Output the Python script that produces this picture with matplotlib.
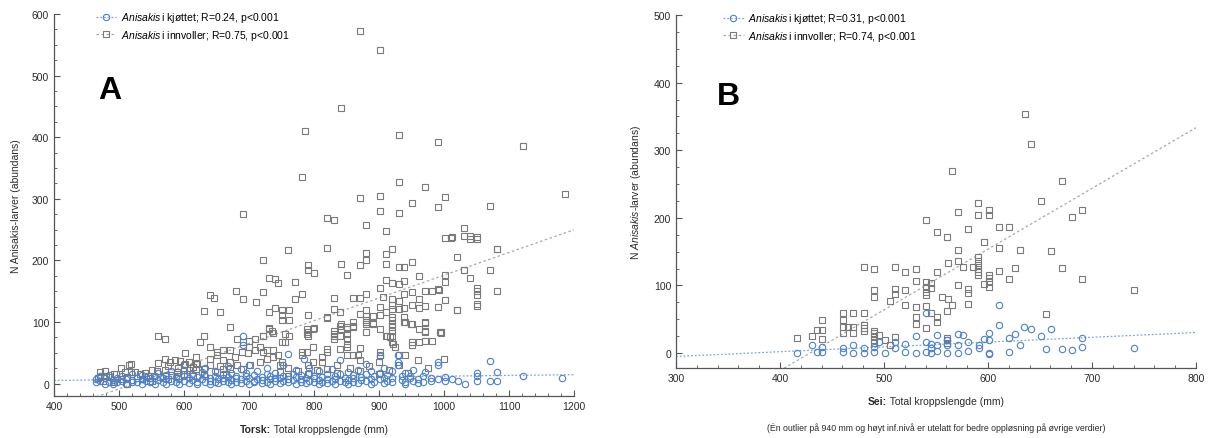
import numpy as np
import matplotlib
matplotlib.use("Agg")
import matplotlib.pyplot as plt
from matplotlib.lines import Line2D
from matplotlib.ticker import MultipleLocator

plt.rcParams['font.family'] = ['Liberation Sans', 'DejaVu Sans']
plt.rcParams['mathtext.fontset'] = 'custom'
plt.rcParams['mathtext.rm'] = 'Liberation Sans'
plt.rcParams['mathtext.it'] = 'Liberation Sans:italic'
plt.rcParams['mathtext.bf'] = 'Liberation Sans:bold'

# ---- Torsk (A): Anisakis i kjøttet, (lengde mm, antall)
torsk_kjott = [
    (465, 2), (465, 8), (470, 5), (470, 12), (478, 0), (478, 9), (485, 3), (485, 14), (490, 6), (490, -1),
    (497, 10), (497, 2), (505, 4), (505, 12), (511, 0), (511, 8), (520, 6), (520, 15), (520, 2), (528, 10),
    (528, 3), (535, 0), (535, 7), (535, 14), (541, 5), (541, 11), (548, 2), (548, 9), (555, 13), (555, 0),
    (560, 6), (560, 18), (567, 3), (567, 10), (572, 0), (572, 14), (572, 7), (580, 5), (580, 20), (587, 2),
    (587, 11), (593, 8), (593, 0), (600, 4), (600, 13), (600, 22), (607, 1), (607, 9), (613, 6), (613, 16),
    (620, 0), (620, 11), (620, 3), (627, 8), (627, 19), (633, 2), (633, 13), (633, 26), (640, 5), (640, 0),
    (640, 10), (647, 12), (647, 3), (647, 21), (653, 7), (653, 1), (660, 15), (660, 4), (660, 9), (667, 2),
    (667, 11), (667, 28), (673, 6), (673, 0), (673, 17), (680, 9), (680, 3), (680, 13), (688, 24), (688, 1),
    (688, 7), (690, 78), (690, 63), (695, 5), (695, 12), (695, 18), (700, 0), (700, 9), (700, 30), (707, 4),
    (707, 14), (707, 2), (713, 8), (713, 20), (720, 1), (720, 11), (720, 6), (727, 15), (727, 3), (727, 25),
    (733, 7), (733, 0), (733, 12), (740, 4), (740, 18), (740, 9), (747, 1), (747, 10), (753, 13), (753, 5),
    (753, 30), (760, 48), (760, 2), (760, 8), (767, 16), (767, 6), (773, 0), (773, 11), (773, 22), (780, 7),
    (780, 3), (780, 14), (784, 40), (787, 10), (787, 1), (793, 5), (793, 17), (793, 26), (800, 2), (800, 9),
    (800, 13), (807, 0), (807, 6), (807, 20), (813, 11), (813, 3), (820, 8), (820, 15), (820, 1), (827, 4),
    (827, 24), (833, 12), (833, 0), (833, 7), (840, 38), (840, 5), (840, 16), (847, 2), (847, 10), (853, 19),
    (853, 6), (853, 0), (860, 9), (860, 3), (860, 14), (867, 22), (867, 1), (873, 6), (873, 11), (880, 32),
    (880, 4), (880, 15), (887, 0), (887, 8), (887, 20), (893, 12), (893, 3), (901, 45), (901, 7), (901, 18),
    (907, 1), (907, 10), (907, 26), (913, 5), (913, 14), (920, 2), (920, 9), (920, 20), (929, 46), (929, 35),
    (929, 30), (935, 6), (935, 12), (940, 0), (940, 17), (940, 3), (947, 9), (947, 13), (953, 4), (953, 22),
    (960, 7), (960, 1), (967, 12), (967, 3), (971, 19), (980, 5), (980, 10), (991, 35), (991, 30), (991, 8),
    (1001, 11), (1001, 4), (1012, 8), (1022, 5), (1032, 0), (1050, 18), (1050, 13), (1050, 5), (1071, 37),
    (1071, 5), (1081, 19), (1081, 5), (1121, 13), (1181, 10),
]

# ---- Torsk (A): Anisakis i innvoller
torsk_innvoller = [
    (871, 572), (901, 542), (841, 447), (786, 410), (931, 404), (991, 393), (1121, 386), (781, 336), (931, 328),
    (970, 319), (1186, 308), (871, 302), (901, 305), (950, 294), (1001, 303), (991, 286), (1070, 289), (901, 281),
    (931, 277), (691, 275), (820, 269), (831, 266), (880, 257), (910, 247), (1031, 252), (1001, 237), (1010, 237),
    (1040, 240), (1040, 235), (1050, 235), (1081, 218), (760, 217), (820, 220), (880, 212), (880, 200), (910, 210),
    (910, 194), (920, 218), (721, 201), (1020, 206), (841, 195), (871, 192), (931, 189), (939, 190), (950, 198),
    (790, 193), (790, 184), (800, 180), (850, 177), (1031, 184), (1071, 184), (1040, 171), (961, 174), (1001, 176),
    (1001, 165), (730, 172), (740, 170), (745, 163), (771, 165), (910, 169), (920, 164), (931, 162), (939, 167),
    (901, 156), (721, 148), (781, 145), (771, 138), (831, 139), (860, 139), (871, 139), (880, 145), (906, 140),
    (920, 138), (931, 135), (939, 146), (950, 149), (970, 151), (981, 151), (991, 153), (1050, 156), (1050, 144),
    (1081, 151), (1001, 136), (711, 132), (740, 123), (750, 119), (750, 111), (750, 103), (761, 119), (761, 103),
    (730, 117), (790, 111), (831, 122), (840, 116), (880, 120), (871, 113), (880, 110), (890, 110), (902, 124),
    (902, 111), (910, 117), (920, 127), (920, 122), (931, 122), (939, 123), (950, 128), (961, 137), (961, 123),
    (970, 126), (991, 124), (1020, 119), (1050, 126), (1050, 130), (820, 106), (841, 97), (850, 92), (860, 100),
    (841, 88), (831, 86), (831, 81), (840, 78), (850, 81), (860, 92), (880, 103), (880, 97), (880, 84), (890, 99),
    (902, 89), (910, 78), (920, 108), (920, 103), (920, 97), (920, 92), (920, 86), (920, 78), (939, 108),
    (939, 100), (949, 97), (961, 88), (970, 99), (970, 84), (995, 84), (800, 90), (790, 84), (790, 78), (820, 108),
    (730, 90), (736, 85), (721, 78), (755, 81), (761, 78), (640, 144), (646, 139), (680, 150), (691, 138),
    (631, 118), (655, 117), (670, 92), (560, 78), (571, 72), (631, 78), (625, 67), (640, 59), (681, 72), (691, 67),
    (700, 70), (709, 73), (722, 78), (731, 89), (737, 83), (750, 67), (700, 59), (709, 54), (717, 59), (722, 51),
    (727, 54), (650, 51), (660, 54), (671, 54), (678, 43), (689, 51), (699, 49), (601, 49), (619, 43), (640, 40),
    (650, 46), (560, 34), (578, 35), (586, 38), (594, 36), (601, 32), (607, 35), (619, 32), (619, 24), (519, 32),
    (519, 19), (660, 38), (671, 35), (660, 24), (671, 24), (681, 30), (691, 24), (701, 30), (717, 35), (727, 40),
    (737, 43), (745, 46), (750, 35), (737, 54), (630, 24), (630, 16), (650, 19), (558, 20), (571, 22), (589, 19),
    (604, 16), (614, 13), (471, 19), (478, 20), (470, 11), (486, 11), (509, 19), (512, 11), (525, 19), (532, 16),
    (540, 18), (545, 13), (496, 16), (512, 0), (535, 8), (548, 9), (755, 67), (789, 89), (789, 81), (799, 89),
    (830, 78), (830, 73), (840, 94), (850, 89), (850, 73), (850, 65), (850, 59), (860, 94), (820, 57), (820, 51),
    (799, 59), (789, 51), (781, 51), (781, 46), (799, 35), (812, 43), (812, 35), (840, 57), (850, 47), (860, 47),
    (868, 46), (871, 58), (871, 38), (880, 100), (891, 97), (902, 51), (902, 46), (912, 78), (917, 76), (922, 65),
    (925, 59), (920, 67), (930, 46), (940, 46), (940, 100), (950, 97), (971, 100), (971, 85), (950, 67), (950, 62),
    (961, 67), (971, 69), (981, 69), (996, 83), (820, 24), (748, 30), (748, 19), (760, 25), (760, 12), (775, 20),
    (790, 30), (790, 15), (805, 22), (835, 18), (835, 30), (855, 25), (870, 20), (885, 28), (900, 15), (900, 35),
    (915, 22), (930, 30), (945, 18), (960, 38), (975, 25), (1000, 40), (468, 10), (475, 5), (480, 12), (492, 15),
    (492, 3), (503, 25), (503, 8), (516, 30), (550, 22), (550, 5), (563, 11), (570, 40), (575, 8), (575, 28),
    (580, 14), (590, 12), (590, 25), (600, 15), (600, 30), (607, 22), (614, 27), (620, 32), (640, 30), (655, 28),
    (665, 15), (1081, 219), (1050, 151), (1030, 184), (1020, 119), (993, 152), (994, 84), (1050, 238), (1030, 240),
    (1012, 238),
]

# ---- Sei (B): Anisakis i kjøttet
sei_kjott = [
    (610.6, 70.8), (610.6, 42), (540.2, 59.5), (635, 38), (641, 36), (661, 35), (651, 25.5), (626, 28),
    (620.5, 22), (690.4, 22), (630.8, 12), (690.4, 8.4), (671.3, 6.4), (680.5, 4), (655.5, 6.4), (740.7, 7.4),
    (620.5, 1.5), (600.6, 29.5), (600.6, 19.6), (600.6, 0), (600.6, -2), (596, 21), (591, 12), (591, 7.4),
    (571, 28), (576, 27), (581, 17), (581, 2.4), (571, 12), (571, 0), (561, 19.6), (561, 12), (561, 0),
    (550.6, 27), (550.6, 12), (550.6, 2.4), (545.5, 14), (545.5, 7), (545.5, 0), (540, 17), (540, 2),
    (530.6, 26), (530.6, 0), (520.6, 14), (520.6, 2), (510.6, 17), (510.6, 7), (501, 0), (495.5, 17),
    (490.7, 9), (490.7, 2), (480.8, 7), (480.8, 0), (470.5, 12), (470.5, 0), (460.3, 7), (460.3, 2),
    (440.3, 9), (440.3, 2), (430.7, 12), (435.5, 2), (416.3, 0),
]

# ---- Sei (B): Anisakis i innvoller
sei_innvoller = [
    (635.6, 353), (641, 309), (565.7, 269), (671, 255), (651, 225), (590.7, 222), (571, 208), (600.6, 212),
    (600.6, 204), (590.7, 204), (680.5, 202), (690, 211), (540, 197), (550.6, 179.5), (560.6, 171.6),
    (580.8, 183), (610.6, 186), (620.5, 186), (596, 165), (571, 153), (610.6, 155), (630.8, 153), (661, 151),
    (590.7, 142.6), (590.7, 136.7), (590.7, 130), (590.7, 125), (590.7, 120.5), (590.7, 115.5), (561.3, 132.7),
    (571, 135.7), (576, 128), (586, 128), (596, 102), (600.6, 115.5), (600.6, 110.6), (600.6, 105.7),
    (600.6, 98), (610.6, 121), (620.5, 110), (626, 126), (671.3, 126), (690.4, 110), (740.7, 94), (655.5, 58.5),
    (480.8, 127), (490.7, 125), (510.6, 127), (520.6, 120), (530.6, 125), (530.6, 106), (550.6, 120),
    (540, 105), (545.5, 103), (540, 98), (545.5, 96), (540, 91), (540, 86), (490.7, 94), (490.7, 83),
    (510.6, 95), (510.6, 87.5), (520.6, 94), (505.8, 77.7), (520.6, 71.8), (530.6, 68.3), (540, 69),
    (530.6, 54), (530.6, 43), (540.2, 37), (545.5, 59), (550.6, 53), (550.6, 46.7), (555.4, 82.6),
    (561.3, 79.6), (560.6, 63), (565.7, 70.8), (581, 72.7), (580.8, 95.4), (580.8, 88.5), (571, 100.7),
    (460.3, 60), (460.3, 49), (460.3, 39), (460.3, 29.5), (465.7, 38), (470.5, 39), (470.5, 29.5), (470.5, 59),
    (480.8, 60), (480.8, 41), (480.8, 37.5), (480.8, 33), (490.7, 33), (490.7, 29.5), (490.7, 24.6),
    (490.7, 19.6), (490.7, 14.7), (495.5, 27), (501, 19.6), (510.6, 23.6), (505.8, 12), (440.3, 49),
    (435.5, 34), (440.3, 34), (440.3, 20.6), (430.7, 25.5), (416.3, 21.7), (561, 22), (561, 19.6), (561, 14.7),
]

# regresjonslinjer (stigning, konstantledd)
fit_torsk_kjott = (0.0116, 0.65)
fit_torsk_innv = (0.369, -193.0)
fit_sei_kjott = (0.071, -26.3)
fit_sei_innv = (0.898, -385.0)

labels_A = [r"$\it{Anisakis}\,$i kjøttet; R=0.24, p<0.001", r"$\it{Anisakis}\,$i innvoller; R=0.75, p<0.001"]
labels_B = [r"$\it{Anisakis}\,$i kjøttet; R=0.31, p<0.001", r"$\it{Anisakis}\,$i innvoller; R=0.74, p<0.001"]

BLUE = '#4f80c8'
BLUE_LINE = '#7ea6dc'
GREY = '#7a7a7a'
GREY_LINE = '#a8a8a8'
TXT = '#2b2b2b'
FS = 7.5

fig = plt.figure(figsize=(12.11, 4.39), dpi=100)
axA = fig.add_axes([54/1211, 1-397/439, 520/1211, 382/439])
axB = fig.add_axes([676/1211, 1-369/439, 520/1211, 353/439])


def draw(ax, kjott, innv, fit_k, fit_i, xlim, ylim):
    xs = np.array(xlim, dtype=float)
    ax.plot(xs, fit_k[0]*xs + fit_k[1], ls=(0, (1.5, 1.5)), color=BLUE_LINE, lw=0.9, zorder=1)
    ax.plot(xs, fit_i[0]*xs + fit_i[1], ls=(0, (2, 2)), color=GREY_LINE, lw=0.9, zorder=1)
    ix, iy = zip(*innv)
    ax.plot(ix, iy, 's', mfc='none', mec=GREY, ms=4.2, mew=0.8, ls='none', zorder=2)
    kx, ky = zip(*kjott)
    ax.plot(kx, ky, 'o', mfc='none', mec=BLUE, ms=4.6, mew=0.8, ls='none', zorder=3)
    ax.set_xlim(*xlim)
    ax.set_ylim(*ylim)
    for s in ['top', 'right']:
        ax.spines[s].set_visible(False)
    for s in ['left', 'bottom']:
        ax.spines[s].set_color('#555555')
        ax.spines[s].set_linewidth(0.9)
    ax.tick_params(which='both', direction='in', colors='#555555', labelcolor=TXT, labelsize=FS)
    ax.tick_params(which='major', length=4)
    ax.tick_params(which='minor', length=2)
    ax.xaxis.set_minor_locator(MultipleLocator(20))
    ax.yaxis.set_minor_locator(MultipleLocator(25))
    handles = [
        Line2D([], [], color=BLUE_LINE, ls=(0, (1.5, 1.5)), lw=0.9, marker='o', mfc='none', mec=BLUE, ms=4.6, mew=0.8),
        Line2D([], [], color=GREY_LINE, ls=(0, (2, 2)), lw=0.9, marker='s', mfc='none', mec=GREY, ms=4.2, mew=0.8),
    ]
    return handles


def xlabel_to_deler(ax, fet, vanlig, y_px):
    # fet del + vanlig del, sentrert under aksen
    r = fig.canvas.get_renderer()
    t1 = fig.text(0, 0, fet, fontsize=FS, fontweight='bold', color=TXT)
    t2 = fig.text(0, 0, vanlig, fontsize=FS, color=TXT)
    w1 = t1.get_window_extent(r).width
    w2 = t2.get_window_extent(r).width
    bb = ax.get_position()
    cx = (bb.x0 + bb.x1) / 2 * 1211
    x0 = cx - (w1 + w2) / 2
    y = 1 - y_px / 439
    t1.set_position((x0 / 1211, y))
    t1.set_va('center')
    t2.set_position(((x0 + w1) / 1211, y))
    t2.set_va('center')


hA = draw(axA, torsk_kjott, torsk_innvoller, fit_torsk_kjott, fit_torsk_innv, (400, 1200), (-20, 600))
axA.set_xticks(np.arange(400, 1201, 100))
axA.set_yticks(np.arange(0, 601, 100))
axA.legend(hA, labels_A, loc='upper left', bbox_to_anchor=(0.08, 1.01), frameon=False, fontsize=FS,
           handlelength=2.0, handletextpad=0.4, labelspacing=0.35, borderpad=0, borderaxespad=0)
axA.text(0.108, 0.80, 'A', transform=axA.transAxes, fontsize=23, fontweight='bold', ha='center', va='center')
xlabel_to_deler(axA, "Torsk:", " Total kroppslengde (mm)", 430)
axA.set_ylabel("N Anisakis-larver (abundans)", fontsize=FS, color=TXT, labelpad=8)

hB = draw(axB, sei_kjott, sei_innvoller, fit_sei_kjott, fit_sei_innv, (300, 800), (-22, 500))
axB.set_xticks(np.arange(300, 801, 100))
axB.set_yticks(np.arange(0, 501, 100))
axB.legend(hB, labels_B, loc='upper left', bbox_to_anchor=(0.09, 1.01), frameon=False, fontsize=FS,
           handlelength=2.0, handletextpad=0.4, labelspacing=0.35, borderpad=0, borderaxespad=0)
axB.text(0.10, 0.77, 'B', transform=axB.transAxes, fontsize=23, fontweight='bold', ha='center', va='center')
xlabel_to_deler(axB, "Sei:", " Total kroppslengde (mm)", 402)
axB.set_ylabel(r"N $\it{Anisakis}$-larver (abundans)", fontsize=FS, color=TXT, labelpad=8)

fig.text(936/1211, 1-428/439, "(Én outlier på 940 mm og høyt inf.nivå er utelatt for bedre oppløsning på øvrige verdier)",
         fontsize=6.3, color=TXT, ha='center', va='center')

fig.savefig('out.png', dpi=100)
